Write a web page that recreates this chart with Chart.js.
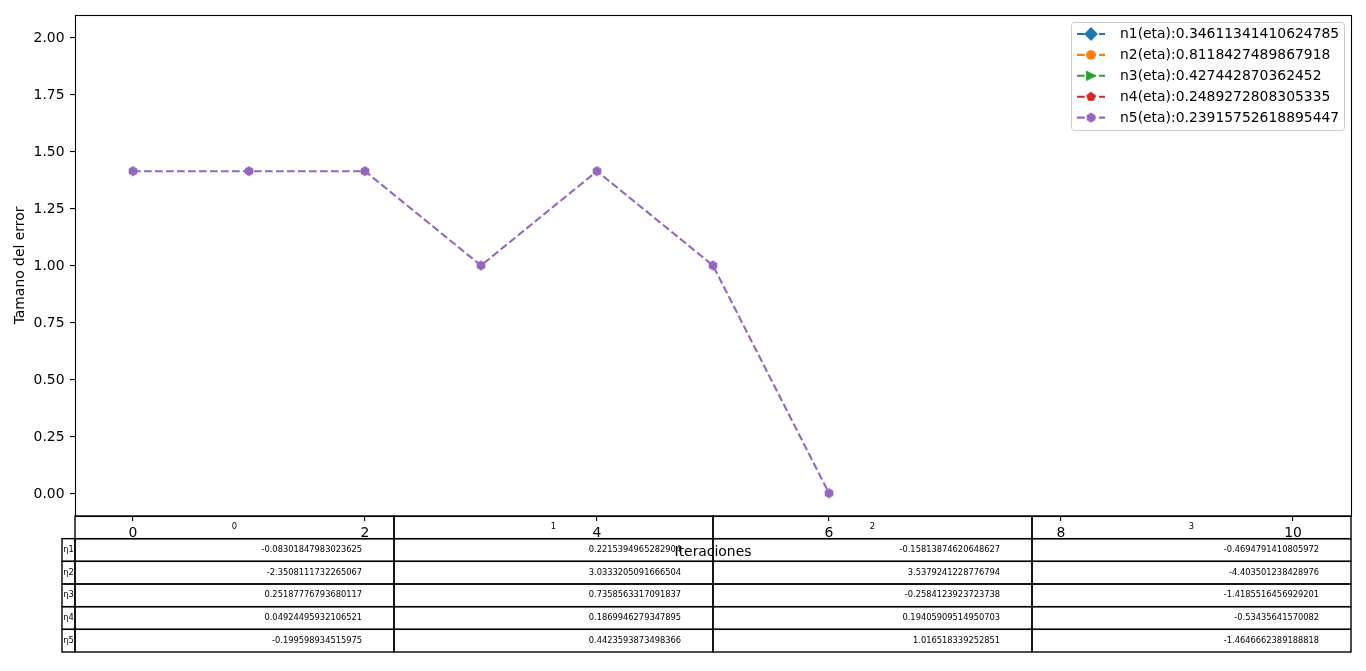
<!DOCTYPE html>
<html><head><meta charset="utf-8">
<script src="https://cdn.jsdelivr.net/npm/chart.js@4.4.0/dist/chart.umd.min.js"></script>
<style>html,body{margin:0;padding:0;background:#fff;overflow:hidden}#wrap{position:relative;width:1366px;height:671px}</style>
</head><body><div id="wrap"><canvas id="c" width="1366" height="671"></canvas></div>
<script>
// ---- data ----
const iterations = [0, 1, 2, 3, 4, 5, 6];
// only n5 is visible in the picture; n1..n4 show no marks
const errN1 = [];
const errN2 = [];
const errN3 = [];
const errN4 = [];
const errN5 = [1.4142, 1.4142, 1.4142, 1.0, 1.4142, 1.0, 0.0];
const seriesLabels = [
  'n1(eta):0.34611341410624785',
  'n2(eta):0.8118427489867918',
  'n3(eta):0.427442870362452',
  'n4(eta):0.2489272808305335',
  'n5(eta):0.23915752618895447'
];
const xTicks = [0, 2, 4, 6, 8, 10];
const yTicks = [0, 0.25, 0.5, 0.75, 1.0, 1.25, 1.5, 1.75, 2.0];
const tableColLabels = ['0', '1', '2', '3'];
const tableRowLabels = ['η1', 'η2', 'η3', 'η4', 'η5'];
const eta1Row = ['-0.08301847983023625', '0.2215394965282904', '-0.15813874620648627', '-0.4694791410805972'];
const eta2Row = ['-2.3508111732265067', '3.0333205091666504', '3.5379241228776794', '-4.403501238428976'];
const eta3Row = ['0.25187776793680117', '0.7358563317091837', '-0.2584123923723738', '-1.4185516456929201'];
const eta4Row = ['0.04924495932106521', '0.1869946279347895', '0.19405909514950703', '-0.53435641570082'];
const eta5Row = ['-0.199598934515975', '0.4423593873498366', '1.016518339252851', '-1.4646662389188818'];

// ---- styles ----
const FONT = 'DejaVu Sans';
const colors = ['#1f77b4', '#ff7f0e', '#2ca02c', '#d62728', '#9467bd'];
const shapes = ['diamond', 'circle', 'triRight', 'pentagon', 'hexagon'];
const allSeries = [errN1, errN2, errN3, errN4, errN5];
const tableRows = [eta1Row, eta2Row, eta3Row, eta4Row, eta5Row];

function markerCanvas(shape, color) {
  const s = 16, c = document.createElement('canvas');
  c.width = s; c.height = s;
  const g = c.getContext('2d');
  g.translate(8, 8);
  const ms = 8.33;
  g.beginPath();
  if (shape === 'circle') {
    g.arc(0, 0, 0.5 * ms, 0, Math.PI * 2);
  } else {
    let pts = [];
    if (shape === 'diamond') pts = [[0, -0.707], [0.707, 0], [0, 0.707], [-0.707, 0]];
    else if (shape === 'triRight') pts = [[0.5, 0], [-0.5, -0.5], [-0.5, 0.5]];
    else {
      const n = shape === 'pentagon' ? 5 : 6;
      for (let i = 0; i < n; i++) {
        const a = -Math.PI / 2 + i * 2 * Math.PI / n;
        pts.push([0.5 * Math.cos(a), 0.5 * Math.sin(a)]);
      }
    }
    pts.forEach((p, i) => i ? g.lineTo(p[0] * ms, p[1] * ms) : g.moveTo(p[0] * ms, p[1] * ms));
    g.closePath();
  }
  g.fillStyle = color; g.strokeStyle = color; g.lineWidth = 1.4; g.lineJoin = 'miter';
  g.fill(); g.stroke();
  return c;
}
const markers = shapes.map((s, i) => markerCanvas(s, colors[i]));

const datasets = allSeries.map((arr, i) => ({
  label: seriesLabels[i],
  data: arr.map((y, j) => ({ x: iterations[j], y: y })),
  borderColor: colors[i],
  backgroundColor: colors[i],
  borderWidth: 2.08,
  borderDash: [7.7, 3.3],
  pointStyle: markers[i],
  pointRadius: 4,
  pointHoverRadius: 4,
  tension: 0,
  fill: false,
  order: 4 - i
}));

const tablePlugin = {
  id: 'tablePlugin',
  beforeDraw(chart) {
    const ctx = chart.ctx;
    const left = 75, colW = 319, top = 516, rowH = (652 - 516) / 6, labW = 13;
    ctx.save();
    ctx.strokeStyle = '#000'; ctx.lineWidth = 1.4;
    ctx.font = '8.3px "' + FONT + '"';
    ctx.fillStyle = '#000';
    ctx.textBaseline = 'middle';
    for (let c = 0; c < tableColLabels.length; c++) {
      ctx.strokeRect(left + c * colW, top, colW, rowH);
      ctx.textAlign = 'center';
      ctx.fillText(tableColLabels[c], left + c * colW + colW / 2, top + rowH / 2);
    }
    for (let r = 0; r < tableRows.length; r++) {
      const y = top + (r + 1) * rowH;
      ctx.strokeRect(left - labW, y, labW, rowH);
      ctx.textAlign = 'left';
      ctx.fillText(tableRowLabels[r], left - labW + 1.3, y + rowH / 2);
      for (let c = 0; c < tableRows[r].length; c++) {
        ctx.strokeRect(left + c * colW, y, colW, rowH);
        ctx.textAlign = 'right';
        ctx.fillText(tableRows[r][c], left + (c + 1) * colW - 0.1 * colW, y + rowH / 2);
      }
    }
    ctx.restore();
  }
};

const framePlugin = {
  id: 'framePlugin',
  afterDraw(chart) {
    const ctx = chart.ctx, a = chart.chartArea;
    ctx.save();
    ctx.strokeStyle = '#000'; ctx.lineWidth = 1.1;
    ctx.strokeRect(Math.round(a.left) + 0.5, Math.round(a.top) + 0.5, Math.round(a.right - a.left), Math.round(a.bottom - a.top));
    // legend
    const bx = 1071.5, by = 22.5, bw = 273, bh = 108, rad = 3;
    ctx.fillStyle = 'rgba(255,255,255,0.8)';
    ctx.strokeStyle = '#cccccc'; ctx.lineWidth = 1;
    ctx.beginPath();
    ctx.roundRect(bx, by, bw, bh, rad);
    ctx.fill(); ctx.stroke();
    ctx.font = '13.9px "' + FONT + '"';
    ctx.textBaseline = 'middle'; ctx.textAlign = 'left';
    for (let i = 0; i < seriesLabels.length; i++) {
      const y = 34 + i * 20.9;
      ctx.strokeStyle = colors[i]; ctx.lineWidth = 2.08;
      ctx.setLineDash([7.7, 3.3]);
      ctx.beginPath(); ctx.moveTo(1077, y); ctx.lineTo(1105, y); ctx.stroke();
      ctx.setLineDash([]);
      ctx.drawImage(markers[i], 1091 - 8, y - 8);
      ctx.fillStyle = '#000';
      ctx.fillText(seriesLabels[i], 1120, y + 0.5);
    }
    ctx.restore();
  }
};

const tickFont = { family: FONT, size: 13.9 };
new Chart(document.getElementById('c'), {
  type: 'line',
  data: { datasets: datasets },
  options: {
    responsive: false, animation: false, devicePixelRatio: 1,
    layout: { padding: { top: 15, right: 15, left: 0, bottom: 0 } },
    plugins: { legend: { display: false }, tooltip: { enabled: false } },
    scales: {
      x: {
        type: 'linear', min: -0.5, max: 10.5,
        afterBuildTicks: s => { s.ticks = xTicks.map(v => ({ value: v })); },
        afterFit: s => { s.height = 155; },
        ticks: { font: tickFont, color: '#000', padding: 4, maxRotation: 0, autoSkip: false, callback: v => String(v) },
        grid: { drawOnChartArea: false, drawTicks: true, tickLength: 5, color: '#000', lineWidth: 1.1 },
        border: { display: false },
        title: { display: true, text: 'Iteraciones', font: tickFont, color: '#000', padding: { top: 0, bottom: 110.7 } }
      },
      y: {
        type: 'linear', min: -0.1, max: 2.1,
        afterBuildTicks: s => { s.ticks = yTicks.map(v => ({ value: v })); },
        afterFit: s => { s.width = 75; },
        ticks: { font: tickFont, color: '#000', padding: 5.5, labelOffset: 1, autoSkip: false, callback: v => Number(v).toFixed(2) },
        grid: { drawOnChartArea: false, drawTicks: true, tickLength: 5, color: '#000', lineWidth: 1.1 },
        border: { display: false },
        title: { display: true, text: 'Tamano del error', font: tickFont, color: '#000', padding: { top: 12, bottom: 0 } }
      }
    }
  },
  plugins: [tablePlugin, framePlugin]
});
</script>
</body></html>
